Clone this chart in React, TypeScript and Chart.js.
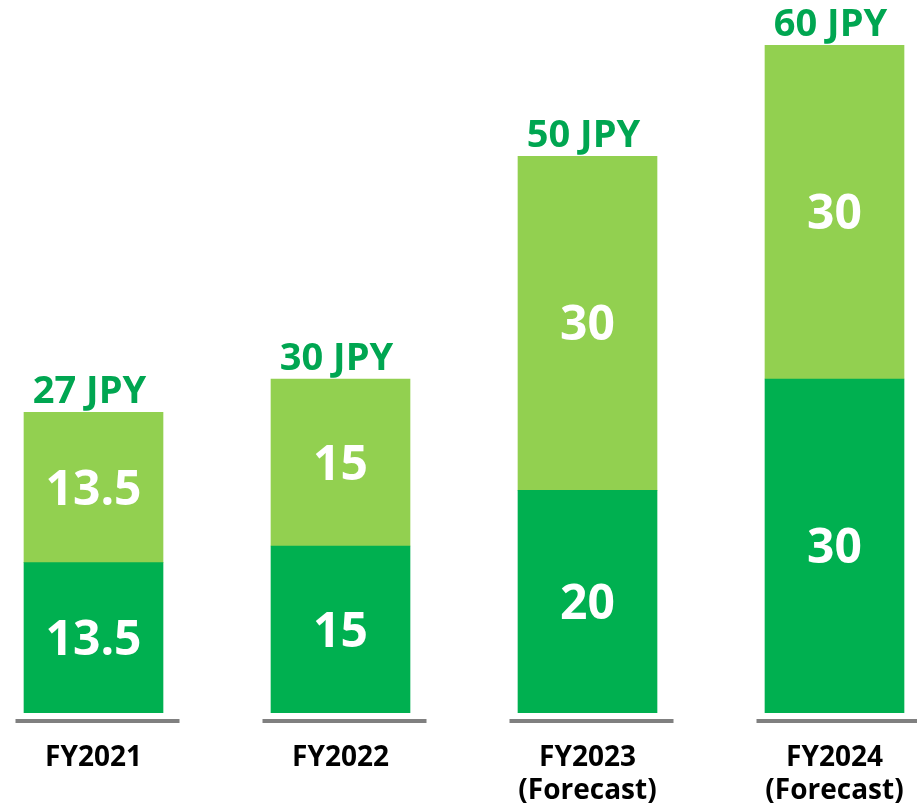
import React, { useEffect, useRef } from "react";
import { Chart, registerables } from "chart.js";

Chart.register(...registerables);

const categories: string[][] = [
  ["FY2021"],
  ["FY2022"],
  ["FY2023", "(Forecast)"],
  ["FY2024", "(Forecast)"],
];
const lowerValues: number[] = [13.5, 15, 20, 30];
const upperValues: number[] = [13.5, 15, 30, 30];
const totalUnit = "JPY";

const DARK_GREEN = "#00B050";
const LIGHT_GREEN = "#92D050";
const TOTAL_GREEN = "#00A651";
const FONT = "'Open Sans', 'Noto Sans', sans-serif";

const labelPlugin = {
  id: "stackLabels",
  afterDatasetsDraw(chart: any) {
    const ctx = chart.ctx;
    ctx.save();
    ctx.textAlign = "center";
    ctx.textBaseline = "alphabetic";
    chart.data.datasets.forEach((ds: any, di: number) => {
      const meta = chart.getDatasetMeta(di);
      meta.data.forEach((bar: any, i: number) => {
        const mid = (bar.y + bar.base) / 2;
        ctx.fillStyle = "#FFFFFF";
        ctx.font = `bold 48px ${FONT}`;
        ctx.fillText(String(ds.data[i]), bar.x, mid + 17);
      });
    });
    const topMeta = chart.getDatasetMeta(chart.data.datasets.length - 1);
    topMeta.data.forEach((bar: any, i: number) => {
      const total = lowerValues[i] + upperValues[i];
      ctx.fillStyle = TOTAL_GREEN;
      ctx.font = `bold 38px ${FONT}`;
      ctx.fillText(`${total} ${totalUnit}`, bar.x - 4, bar.y - 9);
    });
    ctx.restore();
  },
  afterDraw(chart: any) {
    const ctx = chart.ctx;
    const xScale = chart.scales.x;
    const y = chart.chartArea.bottom + 8;
    ctx.save();
    ctx.strokeStyle = "#808080";
    ctx.lineWidth = 4;
    categories.forEach((_, i) => {
      const x = xScale.getPixelForValue(i);
      ctx.beginPath();
      ctx.moveTo(x - 78, y);
      ctx.lineTo(x + 86, y);
      ctx.stroke();
    });
    ctx.restore();
  },
};

export default function App() {
  const canvasRef = useRef<HTMLCanvasElement | null>(null);

  useEffect(() => {
    if (!canvasRef.current) return;
    const chart = new Chart(canvasRef.current, {
      type: "bar",
      data: {
        labels: categories,
        datasets: [
          {
            label: "Interim",
            data: lowerValues,
            backgroundColor: DARK_GREEN,
            borderWidth: 0,
            barThickness: 139,
          },
          {
            label: "Year-end",
            data: upperValues,
            backgroundColor: LIGHT_GREEN,
            borderWidth: 0,
            barThickness: 139,
          },
        ],
      },
      options: {
        responsive: false,
        animation: false,
        layout: { padding: { top: 45, left: 0, right: 0, bottom: 0 } },
        plugins: {
          legend: { display: false },
          tooltip: { enabled: false },
        },
        scales: {
          x: {
            stacked: true,
            offset: true,
            grid: { display: false, drawTicks: false },
            border: { display: false },
            ticks: {
              color: "#000000",
              padding: 29,
              maxRotation: 0,
              autoSkip: false,
              font: { family: FONT, size: 28, weight: "bold", lineHeight: 1.17 },
            },
            afterFit: (scale: any) => {
              scale.height = 92;
            },
          },
          y: {
            stacked: true,
            display: false,
            min: 0,
            max: 60,
          },
        },
      },
      plugins: [labelPlugin],
    });
    return () => chart.destroy();
  }, []);

  return (
    <div
      style={{
        position: "absolute",
        left: 0,
        top: 0,
        width: 917,
        height: 805,
        overflow: "hidden",
        background: "#FFFFFF",
      }}
    >
      <canvas
        ref={canvasRef}
        width={988}
        height={805}
        style={{ position: "absolute", left: -30, top: 0, width: 988, height: 805 }}
      />
    </div>
  );
}
